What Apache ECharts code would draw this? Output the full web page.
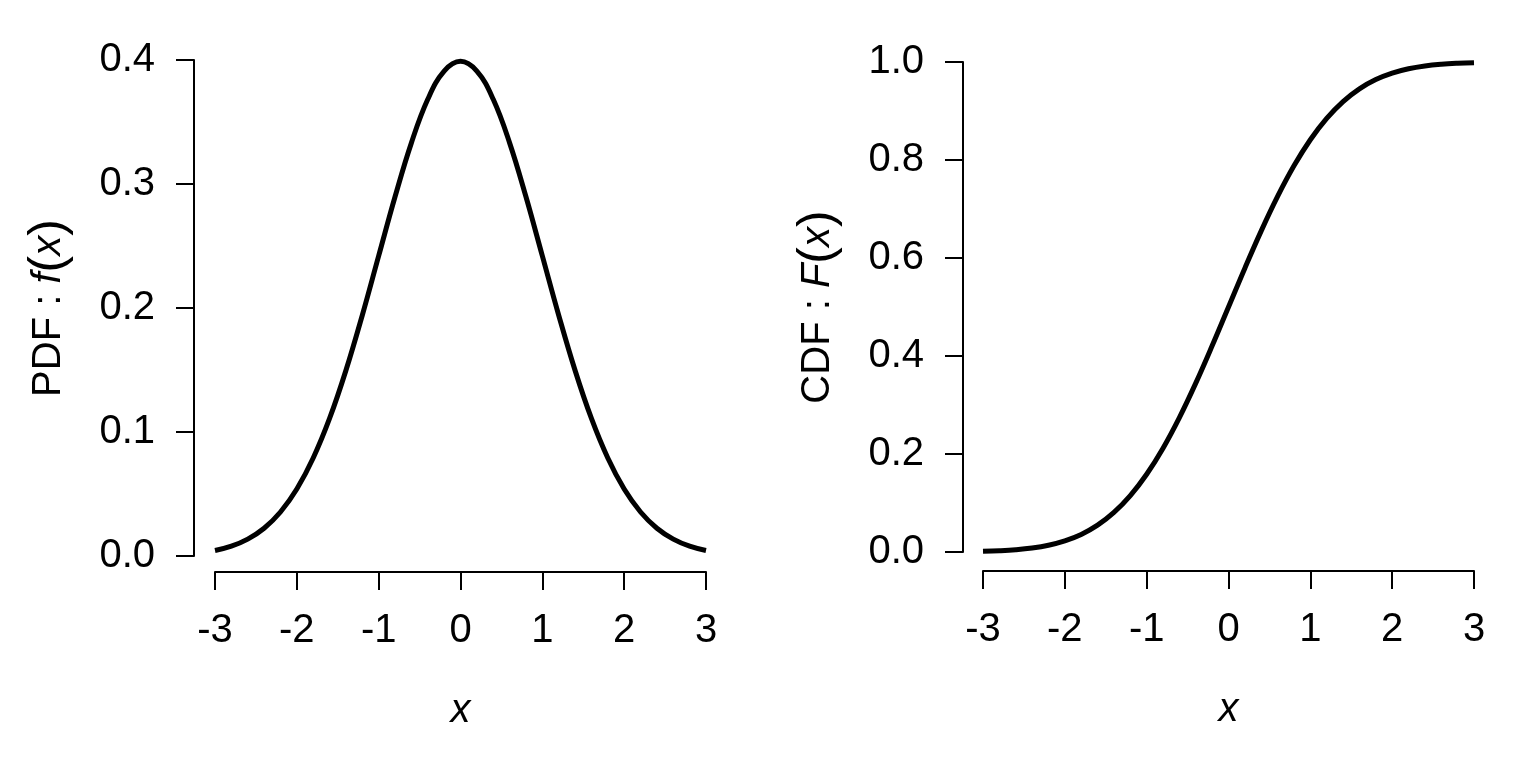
<!DOCTYPE html>
<html>
<head>
<meta charset="utf-8">
<script src="https://cdn.jsdelivr.net/npm/echarts@6/dist/echarts.min.js"></script>
<style>
    html, body { margin: 0; padding: 0; background: #fff; }
    #chart { width: 1536px; height: 768px; }
</style>
</head>
<body>
<div id="chart"></div>
<script>
// values (standard normal)
const xValues = [-3.0, -2.8, -2.6, -2.4, -2.2, -2.0, -1.8, -1.6, -1.4, -1.2, -1.0, -0.8, -0.6, -0.4, -0.2,
    0.0, 0.2, 0.4, 0.6, 0.8, 1.0, 1.2, 1.4, 1.6, 1.8, 2.0, 2.2, 2.4, 2.6, 2.8, 3.0];
const pdfValues = [0.0044, 0.0079, 0.0136, 0.0224, 0.0355, 0.0540, 0.0790, 0.1109, 0.1497, 0.1942, 0.2420,
    0.2897, 0.3332, 0.3683, 0.3910, 0.3989, 0.3910, 0.3683, 0.3332, 0.2897, 0.2420, 0.1942, 0.1497,
    0.1109, 0.0790, 0.0540, 0.0355, 0.0224, 0.0136, 0.0079, 0.0044];
const cdfValues = [0.0013, 0.0026, 0.0047, 0.0082, 0.0139, 0.0228, 0.0359, 0.0548, 0.0808, 0.1151, 0.1587,
    0.2119, 0.2743, 0.3446, 0.4207, 0.5000, 0.5793, 0.6554, 0.7257, 0.7881, 0.8413, 0.8849, 0.9192,
    0.9452, 0.9641, 0.9772, 0.9861, 0.9918, 0.9953, 0.9974, 0.9987];
const xTicks = [-3, -2, -1, 0, 1, 2, 3];
const pdfTicks = [0.0, 0.1, 0.2, 0.3, 0.4];
const cdfTicks = [0.0, 0.2, 0.4, 0.6, 0.8, 1.0];

const font = '"Liberation Sans", Arial, sans-serif';
const fontSize = 40;

const chart = echarts.init(document.getElementById('chart'));

const pair = (ys) => xValues.map((x, i) => [x, ys[i]]);

const nameRich = {
    n: { fontFamily: font, fontSize: fontSize, color: '#000' },
    i: { fontFamily: font, fontSize: fontSize, fontStyle: 'italic', color: '#000' },
    p: { fontFamily: font, fontSize: 50, color: '#000' }
};

const axisLineStyle = { show: true, onZero: false, lineStyle: { color: '#000', width: 2 } };
const tickStyle = { show: true, inside: false, length: 18, lineStyle: { color: '#000', width: 2 } };

function xAxisFor(gridIndex, offset) {
    return {
        type: 'value',
        gridIndex: gridIndex,
        min: -3,
        max: 3,
        interval: 1,
        offset: offset,
        name: '{i|x}',
        nameLocation: 'middle',
        nameGap: 119,
        nameTextStyle: { rich: nameRich },
        axisLine: axisLineStyle,
        axisTick: tickStyle,
        splitLine: { show: false },
        axisLabel: {
            margin: 39,
            fontFamily: font,
            fontSize: fontSize,
            color: '#000',
            showMinLabel: true,
            showMaxLabel: true,
            formatter: (v) => xTicks.indexOf(v) >= 0 ? String(v) : ''
        }
    };
}

function yAxisFor(gridIndex, max, interval, ticks, offset, label) {
    return {
        type: 'value',
        gridIndex: gridIndex,
        min: 0,
        max: max,
        interval: interval,
        offset: offset,
        name: label,
        nameLocation: 'middle',
        nameRotate: 90,
        nameGap: 120,
        nameTextStyle: { rich: nameRich },
        axisLine: axisLineStyle,
        axisTick: tickStyle,
        splitLine: { show: false },
        axisLabel: {
            margin: 39,
            fontFamily: font,
            fontSize: fontSize,
            color: '#000',
            showMinLabel: true,
            showMaxLabel: true,
            formatter: (v) => {
                let t = ticks.find(k => Math.abs(k - v) < 1e-9);
                return t === undefined ? '' : t.toFixed(1);
            }
        }
    };
}

const option = {
    backgroundColor: '#fff',
    animation: false,
    grid: [
        { left: 215, right: 830, top: 60, bottom: 212 },
        { left: 983, right: 62, top: 62, bottom: 216 }
    ],
    xAxis: [
        xAxisFor(0, 16),
        xAxisFor(1, 19)
    ],
    yAxis: [
        yAxisFor(0, 0.4, 0.1, pdfTicks, 21, '{n|PDF : }{i|f}{p|(}{i|x}{p|)}'),
        yAxisFor(1, 1.0, 0.2, cdfTicks, 20, '{n|CDF : }{i|F}{p|(}{i|x}{p|)}')
    ],
    series: [
        {
            name: 'PDF',
            type: 'line',
            xAxisIndex: 0,
            yAxisIndex: 0,
            data: pair(pdfValues),
            smooth: 0.4,
            showSymbol: false,
            clip: false,
            lineStyle: { color: '#000', width: 5 }
        },
        {
            name: 'CDF',
            type: 'line',
            xAxisIndex: 1,
            yAxisIndex: 1,
            data: pair(cdfValues),
            smooth: 0.4,
            showSymbol: false,
            clip: false,
            lineStyle: { color: '#000', width: 5 }
        }
    ]
};

chart.setOption(option);
</script>
</body>
</html>
